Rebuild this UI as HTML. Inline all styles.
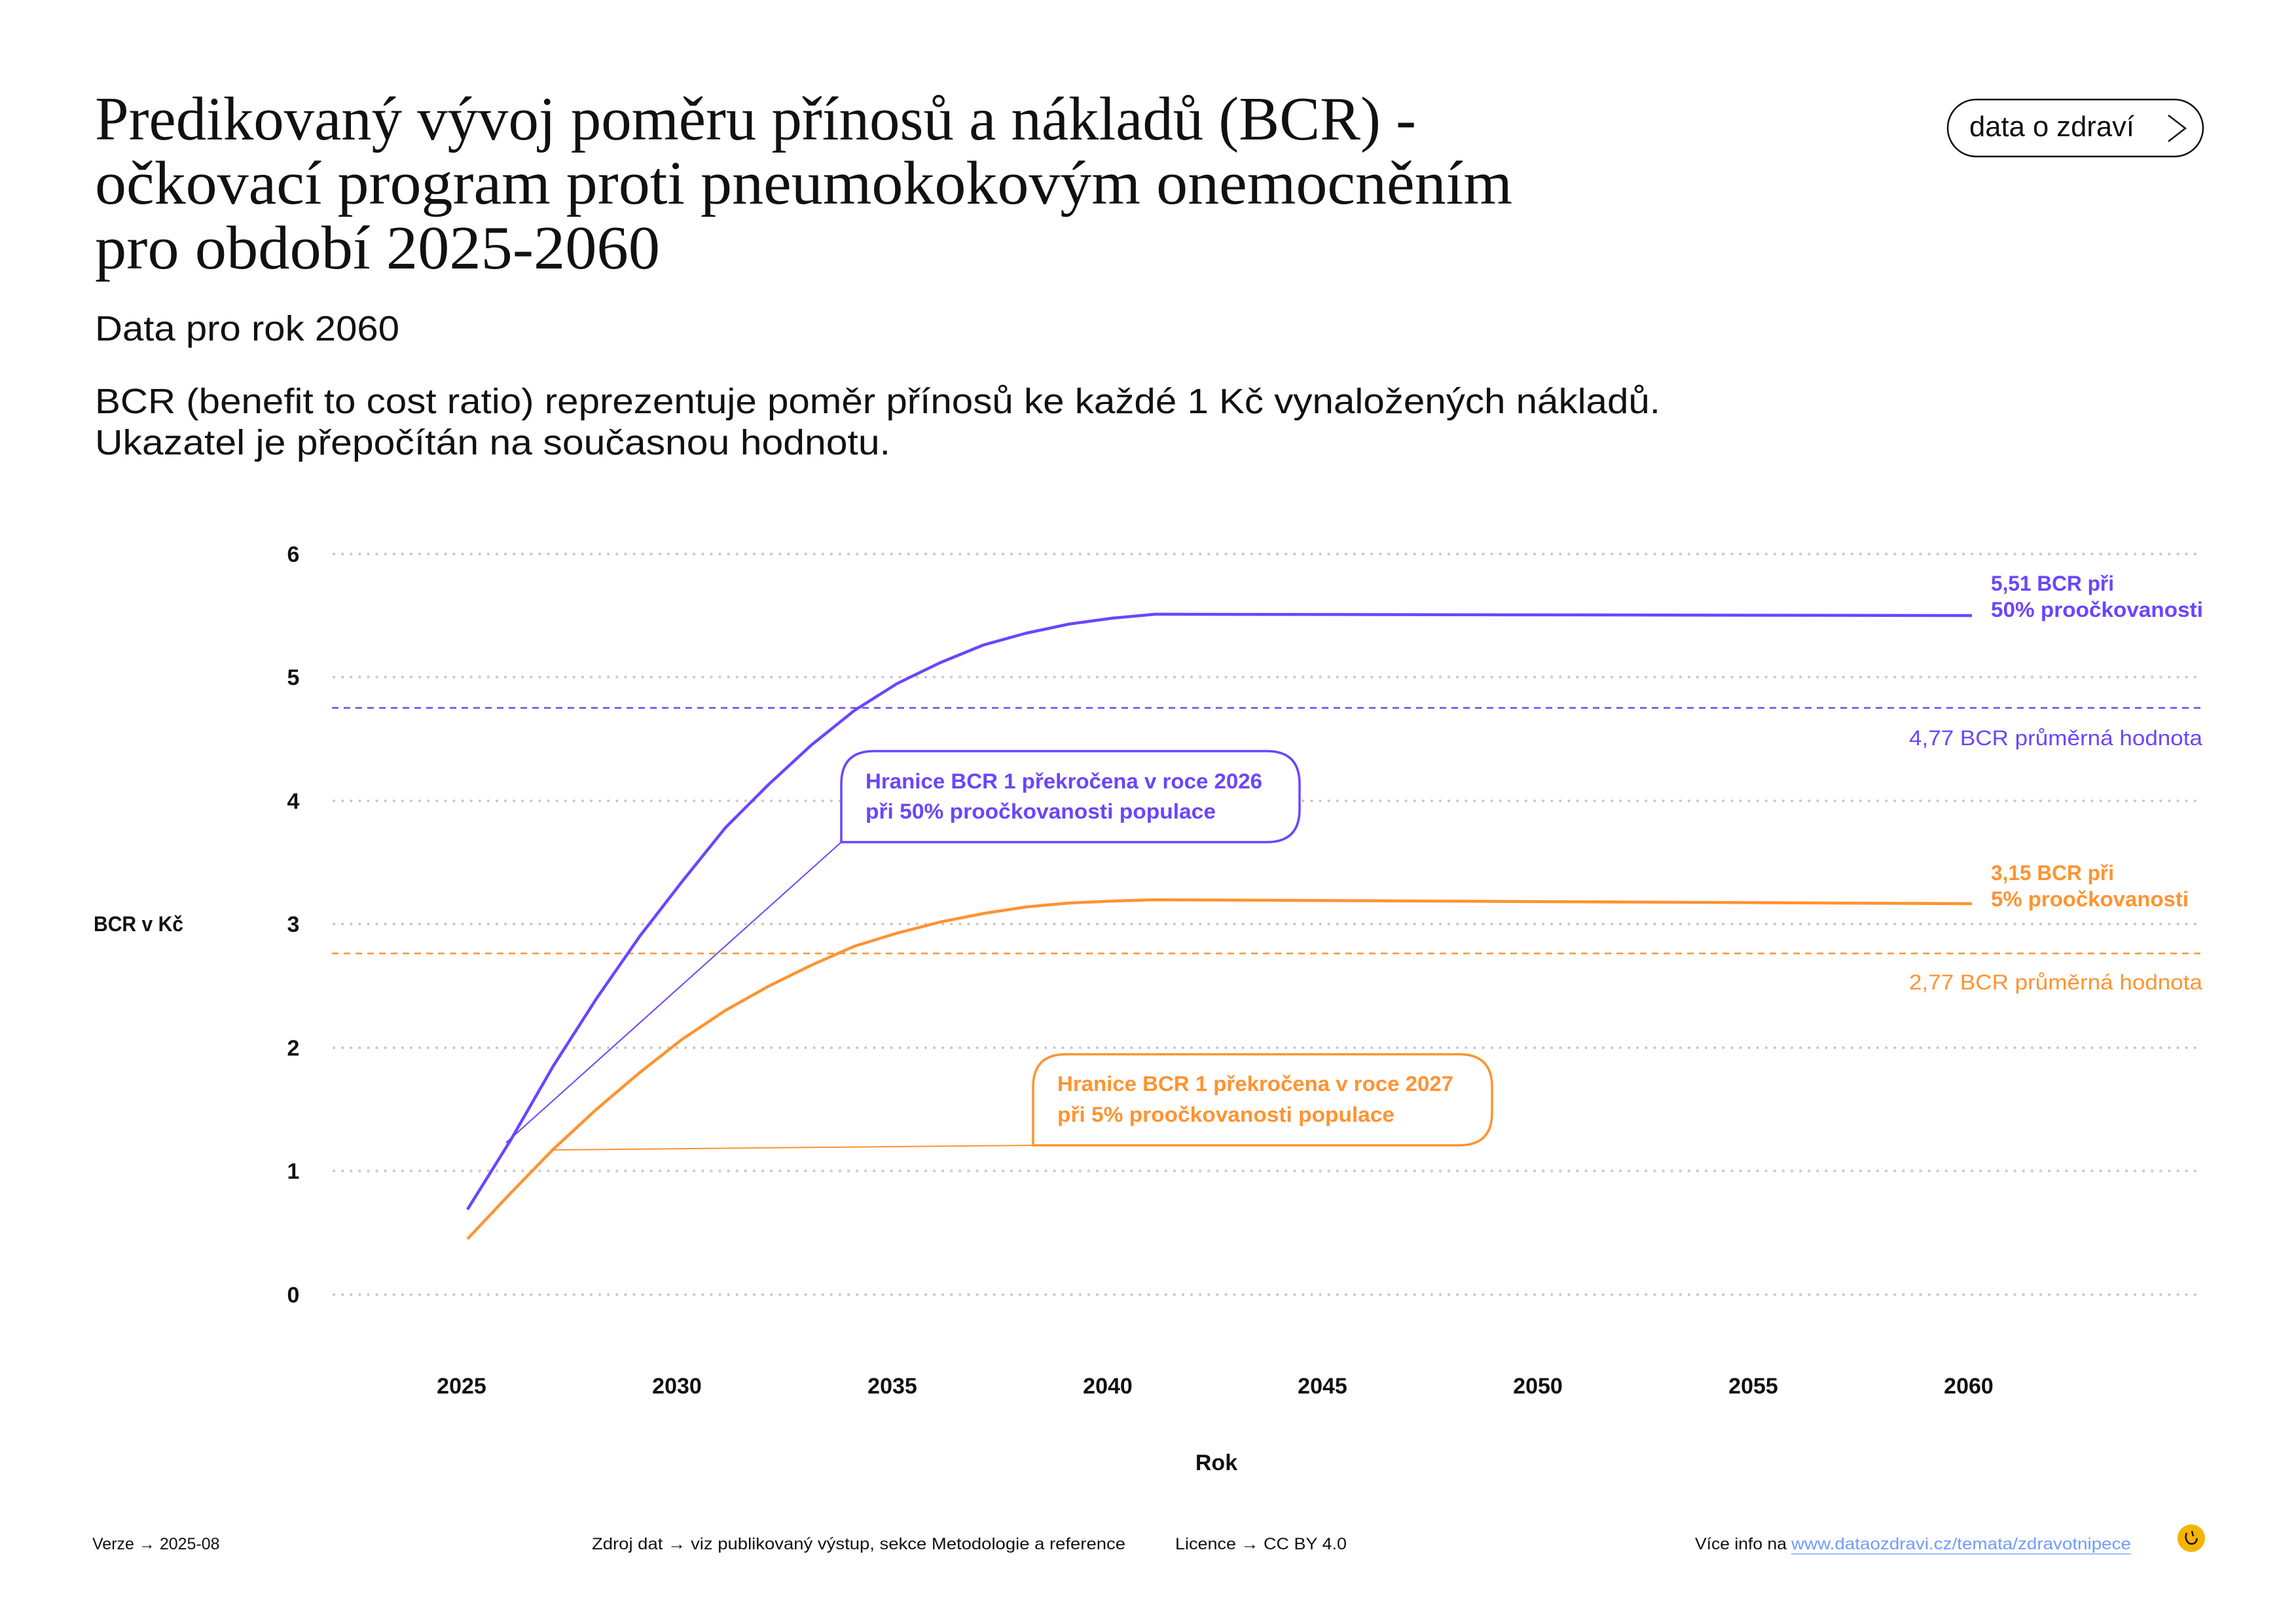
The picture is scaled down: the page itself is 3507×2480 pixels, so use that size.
<!DOCTYPE html>
<html><head><meta charset="utf-8"><style>
html,body{margin:0;padding:0;background:#fff;}
svg{display:block;}
.s{font-family:"Liberation Sans",sans-serif;}
.r{font-family:"Liberation Serif",serif;}
</style></head><body>
<svg width="3507" height="2480" viewBox="0 0 3507 2480" xmlns="http://www.w3.org/2000/svg">
<rect width="3507" height="2480" fill="#fff"/>
<g class="r" fill="#111" font-size="94">
<text x="145" y="213" textLength="2018" lengthAdjust="spacingAndGlyphs">Predikovaný vývoj poměru přínosů a nákladů (BCR) -</text>
<text x="145" y="311" textLength="2165" lengthAdjust="spacingAndGlyphs">očkovací program proti pneumokokovým onemocněním</text>
<text x="145" y="410" textLength="863" lengthAdjust="spacingAndGlyphs">pro období 2025-2060</text>
</g>
<g class="s" fill="#111" font-size="54">
<text x="145" y="520" textLength="465" lengthAdjust="spacingAndGlyphs">Data pro rok 2060</text>
<text x="145" y="631" textLength="2391" lengthAdjust="spacingAndGlyphs">BCR (benefit to cost ratio) reprezentuje poměr přínosů ke každé 1 Kč vynaložených nákladů.</text>
<text x="145" y="694" textLength="1215" lengthAdjust="spacingAndGlyphs">Ukazatel je přepočítán na současnou hodnotu.</text>
</g>
<rect x="2975" y="152" width="390" height="87" rx="43.5" fill="none" stroke="#111" stroke-width="2.5"/>
<text class="s" x="3008" y="208" font-size="44" fill="#111" textLength="252" lengthAdjust="spacingAndGlyphs">data o zdraví</text>
<polyline points="3312,176 3338,196 3312,216" fill="none" stroke="#111" stroke-width="2.5"/>

<g stroke="#c8c8c8" stroke-width="4" stroke-dasharray="0.1 13" stroke-linecap="round">
<line x1="510" y1="846" x2="3365" y2="846"/>
<line x1="510" y1="1034" x2="3365" y2="1034"/>
<line x1="510" y1="1223" x2="3365" y2="1223"/>
<line x1="510" y1="1411" x2="3365" y2="1411"/>
<line x1="510" y1="1600" x2="3365" y2="1600"/>
<line x1="510" y1="1788" x2="3365" y2="1788"/>
<line x1="510" y1="1977" x2="3365" y2="1977"/>
</g>
<g class="s" font-size="34" font-weight="bold" fill="#111" text-anchor="middle">
<text x="448" y="858">6</text><text x="448" y="1046">5</text><text x="448" y="1235">4</text>
<text x="448" y="1423">3</text><text x="448" y="1612">2</text><text x="448" y="1800">1</text><text x="448" y="1989">0</text>
<text x="705" y="2128">2025</text><text x="1034" y="2128">2030</text><text x="1363" y="2128">2035</text><text x="1692" y="2128">2040</text>
<text x="2020" y="2128">2045</text><text x="2349" y="2128">2050</text><text x="2678" y="2128">2055</text><text x="3007" y="2128">2060</text>
<text x="1858" y="2245">Rok</text>
</g>
<text class="s" x="143" y="1422" font-size="32" font-weight="bold" fill="#111" textLength="137" lengthAdjust="spacingAndGlyphs">BCR v Kč</text>

<line x1="507" y1="1081" x2="3365" y2="1081" stroke="#6a45ff" stroke-width="2.5" stroke-dasharray="10 8"/>
<line x1="507" y1="1456" x2="3365" y2="1456" stroke="#ff9330" stroke-width="2.5" stroke-dasharray="10 8"/>

<line x1="1285" y1="1286" x2="773" y2="1745" stroke="#6a45ff" stroke-width="2"/>
<line x1="1578" y1="1749" x2="845" y2="1756" stroke="#ff9330" stroke-width="2"/>

<polyline fill="none" stroke="#6a45ff" stroke-width="4.5" stroke-linejoin="round" points="714,1847 780,1741 845,1628 911,1525 977,1430 1042,1346 1108,1264 1174,1198 1239,1138 1305,1085 1370,1044 1436,1012 1502,985 1567,967 1633,953 1699,944 1764,938 3012,940"/>
<polyline fill="none" stroke="#ff9330" stroke-width="4.5" stroke-linejoin="round" points="714,1892 780,1822 845,1755 911,1694 977,1638 1042,1587 1108,1543 1174,1506 1239,1474 1305,1445 1370,1425 1436,1408 1502,1395 1567,1385 1633,1379 1699,1376 1764,1374 3012,1380"/>

<path d="M1285,1286 L1285,1197 Q1285,1147 1335,1147 L1935,1147 Q1985,1147 1985,1197 L1985,1236 Q1985,1286 1935,1286 Z" fill="#fff" stroke="#6a45ff" stroke-width="3.5"/>
<g class="s" font-size="32" font-weight="bold" fill="#6a45ff">
<text x="1322" y="1204" textLength="606" lengthAdjust="spacingAndGlyphs">Hranice BCR 1 překročena v roce 2026</text>
<text x="1322" y="1250" textLength="535" lengthAdjust="spacingAndGlyphs">při 50% proočkovanosti populace</text>
</g>
<path d="M1578,1749 L1578,1660 Q1578,1610 1628,1610 L2229,1610 Q2279,1610 2279,1660 L2279,1699 Q2279,1749 2229,1749 Z" fill="#fff" stroke="#ff9330" stroke-width="3.5"/>
<g class="s" font-size="32" font-weight="bold" fill="#ff9330">
<text x="1615" y="1666" textLength="605" lengthAdjust="spacingAndGlyphs">Hranice BCR 1 překročena v roce 2027</text>
<text x="1615" y="1713" textLength="515" lengthAdjust="spacingAndGlyphs">při 5% proočkovanosti populace</text>
</g>

<g class="s" font-size="32">
<text x="3041" y="902" font-weight="bold" fill="#6a45ff" textLength="188" lengthAdjust="spacingAndGlyphs">5,51 BCR při</text>
<text x="3041" y="942" font-weight="bold" fill="#6a45ff" textLength="324" lengthAdjust="spacingAndGlyphs">50% proočkovanosti</text>
<text x="3364" y="1138" fill="#6a45ff" text-anchor="end" textLength="448" lengthAdjust="spacingAndGlyphs">4,77 BCR průměrná hodnota</text>
<text x="3041" y="1344" font-weight="bold" fill="#ff9330" textLength="188" lengthAdjust="spacingAndGlyphs">3,15 BCR při</text>
<text x="3041" y="1384" font-weight="bold" fill="#ff9330" textLength="302" lengthAdjust="spacingAndGlyphs">5% proočkovanosti</text>
<text x="3364" y="1511" fill="#ff9330" text-anchor="end" textLength="448" lengthAdjust="spacingAndGlyphs">2,77 BCR průměrná hodnota</text>
</g>

<g class="s" font-size="25" fill="#111">
<text x="141" y="2366">Verze → 2025-08</text>
<text x="904" y="2366" textLength="815" lengthAdjust="spacingAndGlyphs">Zdroj dat → viz publikovaný výstup, sekce Metodologie a reference</text>
<text x="1795" y="2366" textLength="262" lengthAdjust="spacingAndGlyphs">Licence → CC BY 4.0</text>
<text x="2589" y="2366" textLength="140" lengthAdjust="spacingAndGlyphs">Více info na</text>
<text x="2736" y="2366" fill="#6f9bff" textLength="519" lengthAdjust="spacingAndGlyphs">www.dataozdravi.cz/temata/zdravotnipece</text>
</g>
<line x1="2736" y1="2373" x2="3255" y2="2373" stroke="#a9c4ff" stroke-width="2.5"/>
<circle cx="3347" cy="2349" r="21" fill="#f5b400"/>
<path d="M3340,2341 q-4,10 4,16 q10,3 12,-8 M3348,2338 l2,8" fill="none" stroke="#111" stroke-width="2.5"/>
</svg>
</body></html>
